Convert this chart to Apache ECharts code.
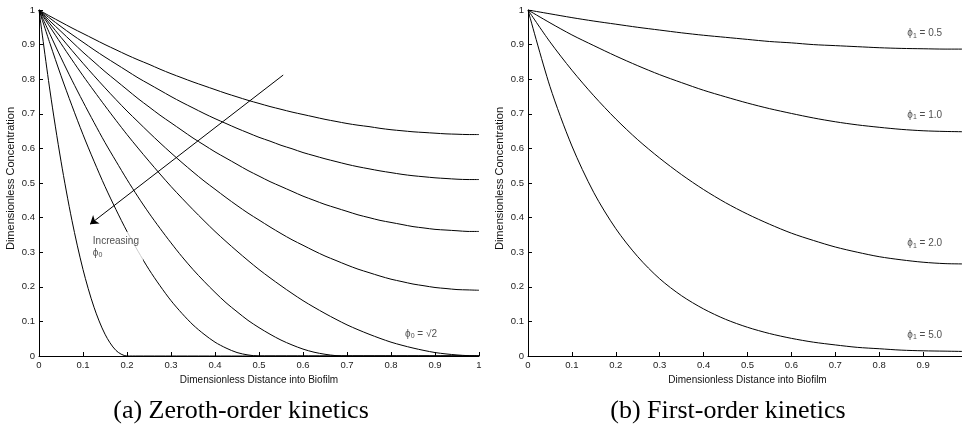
<!DOCTYPE html>
<html>
<head>
<meta charset="utf-8">
<script src="https://cdn.jsdelivr.net/npm/echarts@6/dist/echarts.min.js"></script>
<style>
  html, body { margin: 0; padding: 0; background: #fff; }
  #c { width: 962px; height: 427px; }
</style>
</head>
<body>
<div id="c"></div>
<script>
// ---- Zeroth-order kinetics: concentration profiles across the biofilm ----
const xZero = [0, 0.025, 0.05, 0.075, 0.1, 0.125, 0.15, 0.175, 0.2, 0.225, 0.25, 0.275, 0.3, 0.325, 0.35, 0.375, 0.4, 0.425, 0.45, 0.475, 0.5,
  0.525, 0.55, 0.575, 0.6, 0.625, 0.65, 0.675, 0.7, 0.725, 0.75, 0.775, 0.8, 0.825, 0.85, 0.875, 0.9, 0.925, 0.95, 0.975, 1];

const zeroA = [1, 0.982, 0.965, 0.948, 0.932, 0.916, 0.900, 0.885, 0.870, 0.856, 0.843, 0.829, 0.816, 0.804, 0.792, 0.781, 0.770, 0.759, 0.749, 0.739, 0.730,
  0.721, 0.713, 0.705, 0.698, 0.691, 0.684, 0.678, 0.672, 0.667, 0.663, 0.658, 0.654, 0.651, 0.648, 0.646, 0.644, 0.642, 0.641, 0.640, 0.640];
const zeroB = [1, 0.976, 0.952, 0.929, 0.907, 0.885, 0.864, 0.844, 0.824, 0.804, 0.786, 0.768, 0.750, 0.733, 0.717, 0.701, 0.686, 0.672, 0.658, 0.645, 0.632,
  0.621, 0.609, 0.599, 0.588, 0.579, 0.570, 0.562, 0.554, 0.547, 0.541, 0.535, 0.530, 0.525, 0.521, 0.518, 0.515, 0.513, 0.511, 0.510, 0.510];
const zeroC = [1, 0.968, 0.938, 0.908, 0.878, 0.850, 0.822, 0.796, 0.770, 0.744, 0.720, 0.696, 0.674, 0.652, 0.630, 0.610, 0.590, 0.572, 0.554, 0.536, 0.520,
  0.504, 0.490, 0.476, 0.462, 0.450, 0.438, 0.428, 0.418, 0.408, 0.400, 0.392, 0.386, 0.380, 0.374, 0.370, 0.366, 0.364, 0.362, 0.360, 0.360];
const zeroD = [1, 0.960, 0.921, 0.883, 0.846, 0.810, 0.775, 0.741, 0.708, 0.677, 0.646, 0.616, 0.587, 0.559, 0.532, 0.506, 0.482, 0.458, 0.435, 0.413, 0.393,
  0.373, 0.354, 0.336, 0.320, 0.304, 0.289, 0.276, 0.263, 0.251, 0.241, 0.231, 0.222, 0.215, 0.208, 0.203, 0.198, 0.195, 0.192, 0.191, 0.190];
const zeroE = [1, 0.951, 0.903, 0.856, 0.810, 0.766, 0.723, 0.681, 0.640, 0.601, 0.563, 0.526, 0.490, 0.456, 0.423, 0.391, 0.360, 0.331, 0.303, 0.276, 0.250,
  0.226, 0.203, 0.181, 0.160, 0.141, 0.123, 0.106, 0.090, 0.076, 0.063, 0.051, 0.040, 0.031, 0.023, 0.016, 0.010, 0.006, 0.003, 0.001, 0];
const zeroF = [1, 0.930, 0.862, 0.797, 0.735, 0.675, 0.617, 0.563, 0.510, 0.460, 0.413, 0.369, 0.327, 0.287, 0.250, 0.216, 0.184, 0.154, 0.128, 0.103, 0.082,
  0.063, 0.046, 0.032, 0.020, 0.011, 0.005, 0.001, 0, 0, 0, 0, 0, 0, 0, 0, 0, 0, 0, 0, 0];
const zeroG = [1, 0.903, 0.810, 0.723, 0.640, 0.563, 0.490, 0.423, 0.360, 0.303, 0.250, 0.203, 0.160, 0.123, 0.090, 0.063, 0.040, 0.023, 0.010, 0.003, 0,
  0, 0, 0, 0, 0, 0, 0, 0, 0, 0, 0, 0, 0, 0, 0, 0, 0, 0, 0, 0];
const zeroH = [1, 0.766, 0.563, 0.391, 0.250, 0.141, 0.063, 0.016, 0, 0, 0, 0, 0, 0, 0, 0, 0, 0, 0, 0, 0,
  0, 0, 0, 0, 0, 0, 0, 0, 0, 0, 0, 0, 0, 0, 0, 0, 0, 0, 0, 0];
const zeroSeries = [zeroA, zeroB, zeroC, zeroD, zeroE, zeroF, zeroG, zeroH];

// ---- First-order kinetics ----
const xFirst = [0, 0.05, 0.1, 0.15, 0.2, 0.25, 0.3, 0.35, 0.4, 0.45, 0.5, 0.55, 0.6, 0.65, 0.7, 0.75, 0.8, 0.85, 0.9, 0.95, 1];
const first05 = [1, 0.989, 0.978, 0.968, 0.959, 0.950, 0.942, 0.934, 0.927, 0.921, 0.915, 0.909, 0.905, 0.900, 0.897, 0.894, 0.891, 0.889, 0.888, 0.887, 0.887];
const first10 = [1, 0.963, 0.928, 0.897, 0.867, 0.839, 0.813, 0.790, 0.768, 0.749, 0.731, 0.715, 0.701, 0.688, 0.677, 0.668, 0.661, 0.655, 0.651, 0.649, 0.648];
const first20 = [1, 0.908, 0.826, 0.752, 0.685, 0.625, 0.572, 0.524, 0.481, 0.443, 0.410, 0.381, 0.355, 0.334, 0.315, 0.300, 0.287, 0.278, 0.271, 0.267, 0.266];
const first50 = [1, 0.779, 0.607, 0.472, 0.368, 0.287, 0.223, 0.174, 0.136, 0.106, 0.083, 0.065, 0.051, 0.040, 0.032, 0.025, 0.021, 0.017, 0.015, 0.014, 0.013];
const firstSeries = [first05, first10, first20, first50];
const firstNames = ['0.5', '1.0', '2.0', '5.0'];
const firstLabelAt = [[0.864, 0.933], [0.864, 0.697], [0.864, 0.326], [0.864, 0.061]];

// ---- Text ----
const xTitle = 'Dimensionless Distance into Biofilm';
const yTitle = 'Dimensionless Concentration';
const captions = ['(a) Zeroth-order kinetics', '(b) First-order kinetics'];

const SANS = '"Liberation Sans", Arial, Helvetica, sans-serif';
const SERIF = '"Liberation Serif", "Times New Roman", serif';
const PHI = '\u03D5';

const pairs = (xs, ys) => xs.map((x, i) => [x, ys[i]]);

const rich = {
  t: { fontFamily: SANS, fontSize: 10, color: '#222', lineHeight: 12 },
  p: { fontFamily: SANS, fontSize: 10, color: '#222', lineHeight: 12 },
  s: { fontFamily: SANS, fontSize: 7, color: '#222', lineHeight: 8, padding: [5, 0, 0, 0] }
};

function xAxis(gridIndex) {
  return {
    type: 'value', gridIndex, min: 0, max: 1, interval: 0.1,
    name: xTitle, nameLocation: 'middle', nameGap: 16,
    nameTextStyle: { fontFamily: SANS, fontSize: 10, color: '#111' },
    axisLine: { onZero: false, lineStyle: { color: '#000', width: 1 } },
    axisTick: { inside: true, length: 4, lineStyle: { color: '#000', width: 1 } },
    axisLabel: { fontFamily: SANS, fontSize: 9.5, color: '#222', margin: 4, showMinLabel: true, showMaxLabel: true },
    splitLine: { show: false }
  };
}
function yAxis(gridIndex) {
  return {
    type: 'value', gridIndex, min: 0, max: 1, interval: 0.1,
    name: yTitle, nameLocation: 'middle', nameGap: 23,
    nameTextStyle: { fontFamily: SANS, fontSize: 11, color: '#111', padding: [0, 0, 0, 9] },
    axisLine: { onZero: false, lineStyle: { color: '#000', width: 1 } },
    axisTick: { inside: true, length: 4, lineStyle: { color: '#000', width: 1 } },
    axisLabel: { fontFamily: SANS, fontSize: 9.5, color: '#222', margin: 4, showMinLabel: true, showMaxLabel: true },
    splitLine: { show: false }
  };
}

const series = [];
zeroSeries.forEach(ys => series.push({
  type: 'line', xAxisIndex: 0, yAxisIndex: 0, data: pairs(xZero, ys),
  showSymbol: false, smooth: 0.3, silent: true, z: 3,
  lineStyle: { color: '#000', width: 1 }
}));
firstSeries.forEach(ys => series.push({
  type: 'line', xAxisIndex: 1, yAxisIndex: 1, data: pairs(xFirst, ys),
  showSymbol: false, smooth: 0.3, silent: true, z: 3,
  lineStyle: { color: '#000', width: 1 }
}));

// annotations on the zeroth-order panel: arrow, "Increasing phi0", "phi0 = sqrt2"
series.push({
  type: 'scatter', xAxisIndex: 0, yAxisIndex: 0, symbolSize: 0, silent: true, z: 10,
  data: [
    { value: [0.12, 0.315], label: { formatter: '{t|Increasing}\n{p|' + PHI + '}{s|0}', backgroundColor: '#fff', padding: [3, 4, 3, 1] } },
    { value: [0.832, 0.064], label: { formatter: '{p|' + PHI + '}{s|0}{p| = \u221A2}' } }
  ],
  label: { show: true, position: 'right', distance: 0, rich, align: 'left' },
  markLine: {
    silent: true, symbol: ['none', 'arrow'], symbolSize: 8,
    label: { show: false },
    lineStyle: { color: '#000', width: 1, type: 'solid' },
    data: [[{ coord: [0.555, 0.812] }, { coord: [0.116, 0.381] }]],
    animation: false
  }
});
// curve labels on the first-order panel
series.push({
  type: 'scatter', xAxisIndex: 1, yAxisIndex: 1, symbolSize: 0, silent: true, z: 10,
  data: firstLabelAt.map((pos, i) => ({
    value: pos,
    label: { formatter: '{p|' + PHI + '}{s|1}{p| = ' + firstNames[i] + '}' }
  })),
  label: { show: true, position: 'right', distance: 0, rich, align: 'left' }
});

const chart = echarts.init(document.getElementById('c'));
chart.setOption({
  animation: false,
  backgroundColor: '#fff',
  grid: [
    { left: 39, top: 10, width: 440, height: 346, outerBoundsMode: 'none', containLabel: false },
    { left: 528, top: 10, width: 439, height: 346, outerBoundsMode: 'none', containLabel: false }
  ],
  xAxis: [xAxis(0), xAxis(1)],
  yAxis: [yAxis(0), yAxis(1)],
  series,
  graphic: [
    { type: 'text', x: 241, y: 411, silent: true,
      style: { text: captions[0], font: '26px ' + SERIF, fill: '#000', align: 'center', verticalAlign: 'middle' } },
    { type: 'text', x: 728, y: 411, silent: true,
      style: { text: captions[1], font: '26px ' + SERIF, fill: '#000', align: 'center', verticalAlign: 'middle' } }
  ]
});
</script>
</body>
</html>
